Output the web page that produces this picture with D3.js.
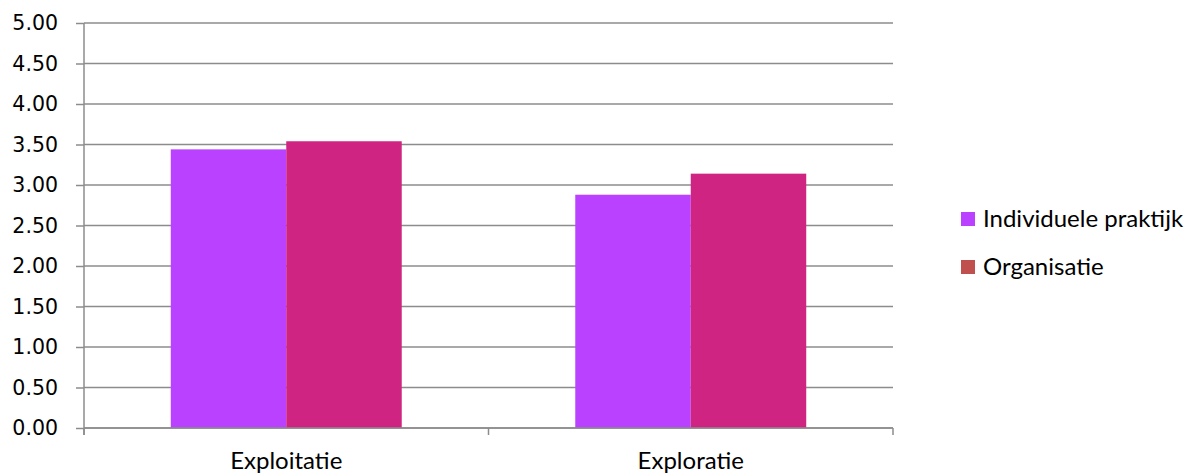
<!DOCTYPE html>
<html>
<head>
<meta charset="utf-8">
<script src="https://cdn.jsdelivr.net/npm/d3@7"></script>
<style>
  html, body { margin: 0; padding: 0; background: #fff; }
  svg { display: block; }
</style>
</head>
<body>
<svg id="chart" width="1198" height="475"></svg>
<script>
// Chart data
const categories = ["Exploitatie", "Exploratie"];
const seriesNames = ["Individuele praktijk", "Organisatie"];
const individueleValues = [3.44, 2.88];
const organisatieValues = [3.54, 3.14];
const yTicks = [0, 0.5, 1, 1.5, 2, 2.5, 3, 3.5, 4, 4.5, 5];

const barColors = ["#B941FF", "#CF2482"];
const legendColors = ["#B941FF", "#C0504D"];
const gridColor = "#8C8C8C";

const svg = d3.select("#chart");
const plot = { left: 84, right: 893, top: 23, bottom: 428 };

const y = d3.scaleLinear().domain([0, 5]).range([plot.bottom, plot.top]);
const x0 = d3.scaleBand()
  .domain(categories)
  .range([plot.left, plot.right])
  .paddingInner(0.429)
  .paddingOuter(0.2145);
const x1 = d3.scaleBand()
  .domain(seriesNames)
  .range([0, x0.bandwidth()]);

// Horizontal gridlines
svg.append("g")
  .selectAll("line")
  .data(yTicks)
  .join("line")
  .attr("x1", plot.left).attr("x2", plot.right)
  .attr("y1", d => y(d)).attr("y2", d => y(d))
  .attr("stroke", gridColor)
  .attr("stroke-width", 1.5);

// Value axis: tick stubs and labels
const gy = svg.append("g")
  .attr("transform", `translate(${plot.left},0)`)
  .call(d3.axisLeft(y)
    .tickValues(yTicks)
    .tickFormat(d3.format(".2f"))
    .tickSize(8)
    .tickSizeOuter(0)
    .tickPadding(18));
gy.select(".domain").remove();
gy.selectAll(".tick line")
  .attr("stroke", gridColor)
  .attr("stroke-width", 1.5);
gy.selectAll(".tick text")
  .attr("font-family", "DejaVu Sans")
  .attr("font-size", 20.5)
  .attr("fill", "#000");

// Bars
const rows = categories.map((c, i) => ({
  category: c,
  values: [individueleValues[i], organisatieValues[i]]
}));

svg.append("g")
  .selectAll("g")
  .data(rows)
  .join("g")
  .attr("transform", d => `translate(${x0(d.category)},0)`)
  .selectAll("rect")
  .data(d => d.values.map((v, j) => ({ name: seriesNames[j], value: v, j })))
  .join("rect")
  .attr("x", d => x1(d.name))
  .attr("y", d => y(d.value))
  .attr("width", x1.bandwidth())
  .attr("height", d => y(0) - y(d.value))
  .attr("fill", d => barColors[d.j]);

// Vertical axis line
svg.append("line")
  .attr("x1", plot.left).attr("x2", plot.left)
  .attr("y1", plot.top).attr("y2", plot.bottom + 7)
  .attr("stroke", gridColor).attr("stroke-width", 1.5);

// Category axis with ticks at band boundaries
const xAxisG = svg.append("g");
xAxisG.append("line")
  .attr("x1", plot.left).attr("x2", plot.right)
  .attr("y1", y(0)).attr("y2", y(0))
  .attr("stroke", gridColor).attr("stroke-width", 1.5);
const boundaries = [plot.left].concat(categories.map(c => x0(c) - x0.step() * x0.paddingInner() / 2 + x0.step()));
xAxisG.selectAll("line.tick")
  .data(boundaries)
  .join("line")
  .attr("class", "tick")
  .attr("x1", d => d).attr("x2", d => d)
  .attr("y1", y(0)).attr("y2", y(0) + 7)
  .attr("stroke", gridColor).attr("stroke-width", 1.5);
xAxisG.selectAll("text")
  .data(categories)
  .join("text")
  .attr("x", d => x0(d) + x0.bandwidth() / 2)
  .attr("y", 469)
  .attr("text-anchor", "middle")
  .attr("font-family", "Lato")
  .attr("font-size", 24)
  .attr("fill", "#000")
  .text(d => d);

// Legend
const legend = svg.append("g").attr("transform", "translate(961,212)");
const items = legend.selectAll("g")
  .data(seriesNames)
  .join("g")
  .attr("transform", (d, i) => `translate(0,${i * 48})`);
items.append("rect")
  .attr("width", 14).attr("height", 14)
  .attr("fill", (d, i) => legendColors[i]);
items.append("text")
  .attr("x", 22).attr("y", 7)
  .attr("dy", "0.35em")
  .attr("font-family", "Lato")
  .attr("font-size", 24)
  .attr("fill", "#000")
  .text(d => d);
</script>
</body>
</html>
